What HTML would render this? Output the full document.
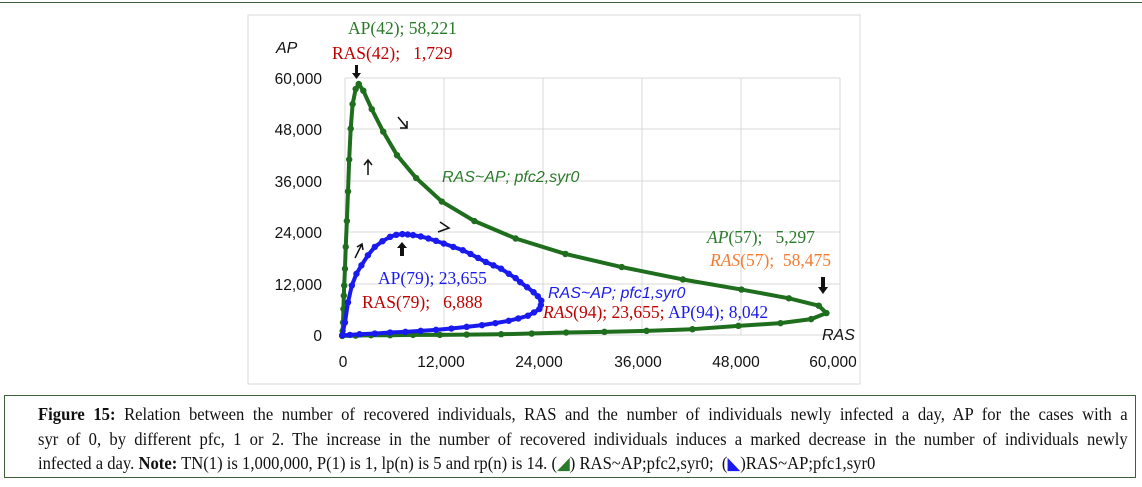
<!DOCTYPE html>
<html><head><meta charset="utf-8"><style>
html,body{margin:0;padding:0;background:#fff}
body{width:1142px;height:487px;position:relative;overflow:hidden;font-family:"Liberation Serif",serif}
.cap{position:absolute;left:4px;top:395px;width:1132px;height:83px;border:1px solid #3d5f3d;box-sizing:border-box}
.ln{position:absolute;left:33px;width:1147px;font-size:17.5px;line-height:20px;color:#111;transform-origin:0 0;transform:scaleX(0.95);white-space:nowrap}
.j{text-align:justify;text-align-last:justify}
</style></head><body>
<div style="position:absolute;left:0;top:2px;width:1142px;height:1px;background:#3d5f3d"></div>
<svg id="s" width="1142" height="390" style="position:absolute;left:0;top:0" font-family="Liberation Sans, sans-serif">
<rect x="248" y="15" width="612" height="369" fill="none" stroke="#d9d9d9"/>
<g stroke="#d9d9d9" stroke-width="1">
<line x1="345" y1="78" x2="840" y2="78"/><line x1="345" y1="129" x2="840" y2="129"/>
<line x1="345" y1="181" x2="840" y2="181"/><line x1="345" y1="232" x2="840" y2="232"/>
<line x1="345" y1="284" x2="840" y2="284"/><line x1="345" y1="335" x2="840" y2="335"/>
<line x1="345" y1="78" x2="345" y2="335"/><line x1="444" y1="78" x2="444" y2="335"/>
<line x1="543" y1="78" x2="543" y2="335"/><line x1="642" y1="78" x2="642" y2="335"/>
<line x1="741" y1="78" x2="741" y2="335"/><line x1="840" y1="78" x2="840" y2="335"/>
</g>
<g font-size="15.5" fill="#111" text-anchor="end">
<text x="322" y="84">60,000</text><text x="322" y="135">48,000</text><text x="322" y="187">36,000</text>
<text x="322" y="238">24,000</text><text x="322" y="290">12,000</text><text x="322" y="341">0</text>
</g>
<g font-size="15.5" fill="#111" text-anchor="middle">
<text x="343" y="367">0</text><text x="441" y="367">12,000</text><text x="539" y="367">24,000</text>
<text x="638" y="367">36,000</text><text x="736" y="367">48,000</text><text x="833" y="367">60,000</text>
</g>
<g id="d"></g>
<text x="276" y="53" font-size="16" font-style="italic" fill="#111">AP</text>
<text x="822" y="340" font-size="16" font-style="italic" fill="#111">RAS</text>
<g font-family="Liberation Serif, serif" font-size="17.5">
<text x="348" y="34" fill="#2a7a2a">AP(42); 58,221</text>
<text x="332" y="59" fill="#c00000" xml:space="preserve">RAS(42);   1,729</text>
<text x="707" y="243" fill="#2a7a2a" xml:space="preserve"><tspan font-style="italic">AP</tspan>(57);   5,297</text>
<text x="710" y="266" fill="#f47a30" xml:space="preserve"><tspan font-style="italic">RAS</tspan>(57);  58,475</text>
<text x="378" y="284" fill="#1a1aee">AP(79); 23,655</text>
<text x="362" y="308" fill="#c00000" xml:space="preserve">RAS(79);   6,888</text>
<text x="543" y="318" fill="#c00000"><tspan font-style="italic">RAS</tspan>(94); 23,655; <tspan fill="#1a1aee">AP(94); 8,042</tspan></text>
</g>
<text x="442" y="182" font-size="16" font-style="italic" fill="#2a7a2a">RAS~AP; pfc2,syr0</text>
<text x="548" y="298" font-size="16" font-style="italic" fill="#1a1aee">RAS~AP; pfc1,syr0</text>
<g stroke="#111" stroke-width="1.5" fill="none">
<path d="M398 117 L407 128 M400 128 L407 128 L407 121"/>
<path d="M368 175 L368 160 M364 165 L368 160 L372 165"/>
<path d="M440 222 L449 228 L438 232"/>
<path d="M355 258 L362 244 M357 247 L362 244 L363 250"/>
</g>
<g fill="#111">
<path d="M355 65 h3 v8 h3 l-4.5 6 l-4.5 -6 h3z"/>
<path d="M400 256 h4 v-8 h3 l-5 -6 l-5 6 h3z"/>
<path d="M821 277 h4 v10 h3 l-5 7 l-5 -7 h3z"/>
</g>
</svg>
<div class="cap">
<div class="ln j" style="top:8px"><b>Figure 15:</b> Relation between the number of recovered individuals, RAS and the number of individuals newly infected a day, AP for the cases with a</div>
<div class="ln j" style="top:33px">syr of 0, by different pfc, 1 or 2. The increase in the number of recovered individuals induces a marked decrease in the number of individuals newly</div>
<div class="ln" style="top:57px">infected a day. <b>Note:</b> TN(1) is 1,000,000, P(1) is 1, lp(n) is 5 and rp(n) is 14. (<span style="color:#2a7a2a">&#9698;</span>) RAS~AP;pfc2,syr0;&nbsp; (<span style="color:#1a1aee">&#9699;</span>)RAS~AP;pfc1,syr0</div>
</div>
<script>
function cv(a){return a.map(p=>[260+p[0]/2.613,p[1]/2.977]);}
var g=[[215,1000],[216,985],[217,960],[218,920],[219,880],[220,850],[222,800],[224,735],[227,658],[230,570],[233,475],[237,383],[242,310],[250,265],[258,250],[270,270],[292,325],[322,392],[358,462],[408,530],[475,600],[560,658],[668,710],[798,756],[945,795],[1105,832],[1258,862],[1382,888],[1460,910],[1480,932],[1440,950],[1360,962],[1250,970],[1130,980],[1010,985],[900,988],[800,990],[710,993],[630,995],[540,996],[470,997],[400,997],[340,998],[290,998],[250,999],[215,1000]];
var b=[[215,998],[222,960],[230,900],[240,850],[252,815],[265,790],[282,760],[300,735],[320,718],[340,705],[356,699],[372,697],[386,698],[400,700],[420,704],[440,710],[460,717],[480,725],[505,735],[530,745],[550,756],[570,768],[590,780],[610,790],[630,800],[650,815],[668,828],[680,840],[698,855],[715,870],[726,882],[735,895],[734,908],[730,920],[716,930],[700,940],[675,948],[650,955],[615,962],[580,968],[540,973],[500,978],[460,982],[420,985],[380,988],[340,990],[300,993],[260,995],[235,997],[215,998]];
var d=document.getElementById('d'),ns='http://www.w3.org/2000/svg';
function draw(a,c,w,r){a=cv(a);var pl=document.createElementNS(ns,'polyline');pl.setAttribute('points',a.map(p=>p.join(',')).join(' '));pl.setAttribute('fill','none');pl.setAttribute('stroke',c);pl.setAttribute('stroke-width',w);pl.setAttribute('stroke-linejoin','round');d.appendChild(pl);
a.forEach(p=>{var e=document.createElementNS(ns,'circle');e.setAttribute('cx',p[0]);e.setAttribute('cy',p[1]);e.setAttribute('r',r);e.setAttribute('fill',c);d.appendChild(e);});}
draw(g,'#1e6e1e',4,3.2);draw(b,'#1a1aee',4,3.2);
</script>
</body></html>
